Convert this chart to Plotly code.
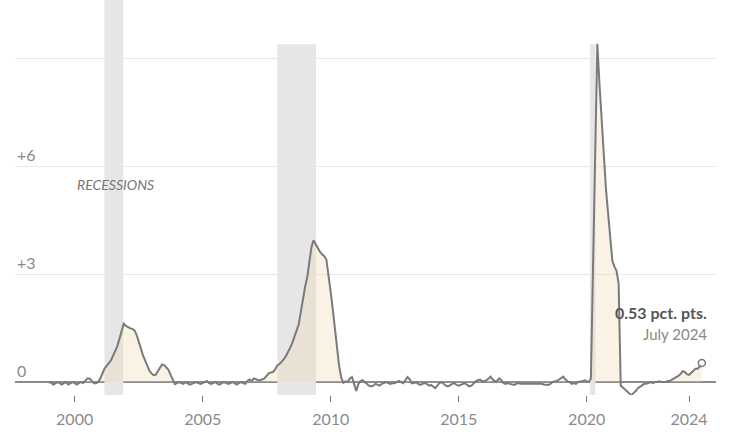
import numpy as np
import pandas as pd
import plotly.graph_objects as go

# Monthly values, Jan 1999 - Jul 2024 (percentage points)
y1999 = [-0.03, 0.0, -0.07, -0.03, 0.0, -0.03, -0.07, -0.03, 0.0, -0.07, -0.03, 0.0]
y2000 = [-0.03, -0.07, -0.03, 0.0, -0.03, 0.03, 0.1, 0.1, 0.03, -0.03, -0.03, 0.0]
y2001 = [0.1, 0.25, 0.37, 0.45, 0.51, 0.6, 0.73, 0.85, 1.0, 1.2, 1.45, 1.62]
y2002 = [1.56, 1.52, 1.5, 1.48, 1.45, 1.32, 1.16, 0.95, 0.75, 0.6, 0.45, 0.32]
y2003 = [0.24, 0.19, 0.2, 0.3, 0.42, 0.49, 0.47, 0.4, 0.34, 0.2, 0.05, -0.06]
y2004 = [-0.03, 0.0, -0.03, -0.05, 0.0, -0.03, -0.07, -0.05, -0.03, 0.0, -0.03, -0.05]
y2005 = [-0.03, 0.0, 0.03, -0.03, -0.05, -0.03, 0.0, -0.05, -0.07, -0.03, 0.0, -0.03]
y2006 = [-0.05, -0.03, 0.0, -0.03, -0.07, -0.03, 0.0, -0.03, -0.05, 0.03, 0.07, 0.03]
y2007 = [0.1, 0.08, 0.05, 0.05, 0.08, 0.1, 0.17, 0.24, 0.27, 0.28, 0.35, 0.46]
y2008 = [0.5, 0.56, 0.63, 0.72, 0.82, 0.95, 1.08, 1.25, 1.42, 1.6, 1.95, 2.36]
y2009 = [2.65, 2.92, 3.29, 3.75, 3.94, 3.82, 3.7, 3.62, 3.55, 3.5, 3.4, 3.0]
y2010 = [2.5, 2.0, 1.5, 0.95, 0.45, 0.12, -0.02, 0.02, 0.0, 0.1, 0.14, -0.05]
y2011 = [-0.25, -0.05, 0.03, 0.05, 0.0, -0.05, -0.1, -0.12, -0.1, -0.05, -0.07, -0.1]
y2012 = [-0.05, -0.03, 0.0, -0.03, -0.05, -0.03, -0.03, 0.0, 0.03, 0.0, -0.03, 0.05]
y2013 = [0.14, 0.08, -0.03, -0.03, 0.0, -0.05, -0.08, -0.05, -0.03, -0.05, -0.1, -0.08]
y2014 = [-0.12, -0.17, -0.1, -0.03, 0.0, -0.05, -0.1, -0.12, -0.08, -0.05, -0.03, -0.08]
y2015 = [-0.1, -0.08, -0.05, -0.03, -0.08, -0.12, -0.1, -0.03, 0.02, 0.05, 0.07, 0.03]
y2016 = [0.02, 0.05, 0.1, 0.15, 0.07, 0.02, 0.03, 0.1, 0.05, -0.03, -0.05, -0.03]
y2017 = [-0.05, -0.07, -0.08, -0.05, -0.03, -0.05, -0.05, -0.03, -0.03, -0.05, -0.03, -0.05]
y2018 = [-0.03, -0.05, -0.03, -0.05, -0.07, -0.08, -0.08, -0.05, 0.0, 0.02, 0.03, 0.07]
y2019 = [0.12, 0.15, 0.08, 0.02, 0.0, -0.05, -0.03, -0.05, 0.0, 0.0, 0.02, 0.05]
y2020 = [0.03, 0.0, 0.1, 3.2, 6.4, 9.4, 8.3, 7.2, 6.1, 5.4, 4.7, 4.03]
y2021 = [3.38, 3.2, 3.1, 2.73, -0.1, -0.15, -0.2, -0.27, -0.33, -0.37, -0.3, -0.25]
y2022 = [-0.17, -0.12, -0.08, -0.05, -0.05, -0.03, 0.0, -0.03, 0.0, 0.0, 0.02, 0.0]
y2023 = [0.0, 0.0, 0.03, 0.03, 0.07, 0.1, 0.12, 0.17, 0.22, 0.3, 0.28, 0.22]
y2024 = [0.2, 0.25, 0.3, 0.37, 0.37, 0.43, 0.53]

values = (y1999 + y2000 + y2001 + y2002 + y2003 + y2004 + y2005 + y2006 + y2007 +
          y2008 + y2009 + y2010 + y2011 + y2012 + y2013 + y2014 + y2015 + y2016 +
          y2017 + y2018 + y2019 + y2020 + y2021 + y2022 + y2023 + y2024)
dates = pd.date_range("1999-01-01", periods=len(values), freq="MS")

recession_starts = ["2001-03-01", "2007-12-01", "2020-02-15"]
recession_ends = ["2001-11-25", "2009-06-05", "2020-05-05"]
recession_tops = [10.62, 9.39, 9.39]

tick_years = ["2000", "2005", "2010", "2015", "2020", "2024"]
y_labels = {0: "0", 3: "+3", 6: "+6"}

last_label = "0.53 pct. pts."
last_date_label = "July 2024"

Y_MIN, Y_MAX = -0.36, 10.62
X_MIN, X_MAX = "1997-09-02", "2025-01-19"

vals = np.array(values)
fig = go.Figure()
fig.add_trace(go.Scatter(x=dates, y=np.maximum(vals, 0), mode="lines",
                         line=dict(width=0), fill="tozeroy",
                         fillcolor="rgba(238,215,175,0.32)", hoverinfo="skip",
                         showlegend=False))
fig.add_trace(go.Scatter(x=dates, y=vals, mode="lines",
                         line=dict(color="#7a7a7a", width=2), showlegend=False))
fig.add_trace(go.Scatter(x=[dates[-1]], y=[vals[-1]], mode="markers",
                         marker=dict(symbol="circle", size=7, color="white",
                                     line=dict(color="#7a7a7a", width=1.5)),
                         showlegend=False))

shapes = []
for s, e, top in zip(recession_starts, recession_ends, recession_tops):
    shapes.append(dict(type="rect", xref="x", yref="y", x0=s, x1=e, y0=Y_MIN, y1=top,
                       fillcolor="#e6e6e6", line=dict(width=0), layer="between"))
shapes.append(dict(type="line", xref="paper", yref="y", x0=0, x1=1, y0=0, y1=0,
                   line=dict(color="#666666", width=1.5), layer="between"))

annotations = []
for v, t in y_labels.items():
    annotations.append(dict(xref="paper", yref="y", x=0, y=v, text=t, showarrow=False,
                            xanchor="left", yanchor="middle", yshift=12,
                            font=dict(family="Lato", size=16, color="#8a8a8a")))
annotations.append(dict(xref="x", yref="y", x="2001-08-10", y=5.49,
                        text="<i>RECESSIONS</i>", showarrow=False,
                        font=dict(family="Lato", size=14, color="#777777")))
annotations.append(dict(xref="paper", yref="y", x=(709 - 15) / (716 - 15), y=1.94,
                        text="<b>" + last_label + "</b>", showarrow=False,
                        xanchor="right", yanchor="middle",
                        font=dict(family="Lato", size=16, color="#555555")))
annotations.append(dict(xref="paper", yref="y", x=(709 - 15) / (716 - 15), y=1.34,
                        text=last_date_label, showarrow=False,
                        xanchor="right", yanchor="middle",
                        font=dict(family="Lato", size=15, color="#888888")))

fig.update_layout(
    width=747, height=446,
    margin=dict(l=15, r=31, t=0, b=51),
    plot_bgcolor="white", paper_bgcolor="white",
    shapes=shapes, annotations=annotations,
    xaxis=dict(type="date", range=[X_MIN, X_MAX], showgrid=False, zeroline=False,
               showline=False,
               tickvals=[f"{y}-01-01" for y in tick_years], ticktext=tick_years,
               ticks="outside", ticklen=6, tickwidth=1, tickcolor="#777777",
               ticklabelstandoff=4,
               tickfont=dict(family="Lato", size=16, color="#8a8a8a")),
    yaxis=dict(range=[Y_MIN, Y_MAX], tickvals=[3, 6, 9], showticklabels=False,
               showgrid=True, gridcolor="#e8e8e8", gridwidth=1, zeroline=False,
               showline=False),
    showlegend=False,
)

fig.write_html("out.html", config={"displayModeBar": False},
               post_script="document.body.style.margin='0';document.body.style.padding='0';")
